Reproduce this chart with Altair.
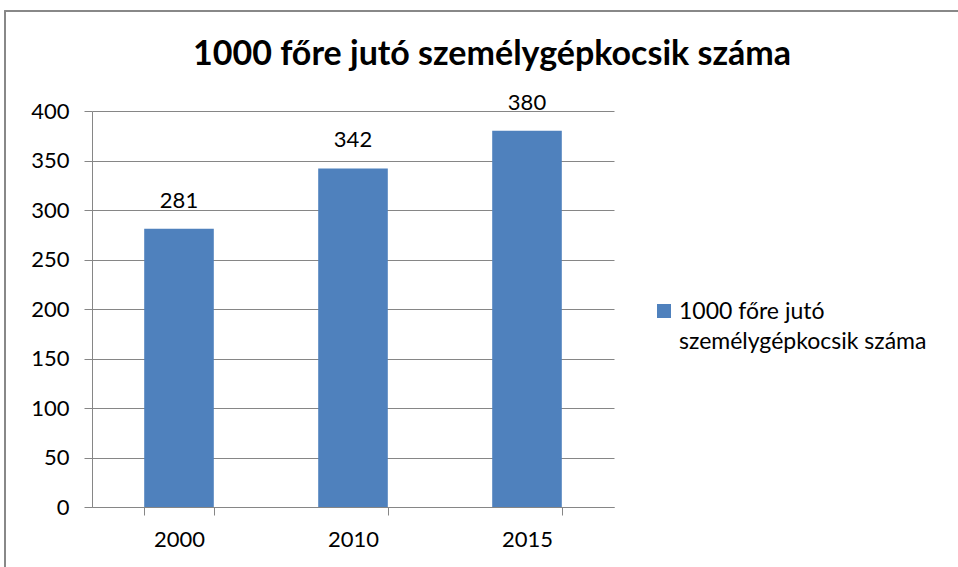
import altair as alt
import pandas as pd

years = ["2000", "2010", "2015"]
values = [281, 342, 380]
series = "1000 főre jutó személygépkocsik száma"
legend_lines = ["1000 főre jutó", "személygépkocsik száma"]
title = "1000 főre jutó személygépkocsik száma"

df = pd.DataFrame({"year": years, "value": values, "series": [series] * len(years)})
leg_df = pd.DataFrame({"series": [series], "label": ["|".join(legend_lines)]})

FONT = "Lato"
GREY = "#868686"
BLUE = "#4F81BD"
FS = 22

base = alt.Chart(df)

bars = base.mark_bar().encode(
    x=alt.X("year:N", sort=years,
            scale=alt.Scale(paddingInner=0.6, paddingOuter=0.3),
            axis=alt.Axis(title=None, labelAngle=0, labelFont=FONT, labelFontSize=FS,
                          labelColor="#000000", labelPadding=14, domainColor=GREY,
                          tickColor=GREY, tickSize=8, tickBand="extent", grid=False)),
    y=alt.Y("value:Q", scale=alt.Scale(domain=[0, 400], nice=False),
            axis=alt.Axis(title=None, values=list(range(0, 401, 50)), labelFont=FONT,
                          labelFontSize=FS, labelColor="#000000", labelPadding=15,
                          domainColor=GREY, tickColor=GREY, tickSize=8,
                          gridColor=GREY, gridWidth=1)),
    color=alt.Color("series:N", scale=alt.Scale(range=[BLUE]), legend=None),
)

labels = base.mark_text(font=FONT, fontSize=FS, color="#000000", baseline="alphabetic", dy=-21).encode(
    x=alt.X("year:N", sort=years),
    y="value:Q",
    text="value:Q",
)

leg_sym = alt.Chart(leg_df).mark_square(size=196, opacity=1).encode(
    x=alt.value(572), y=alt.value(200),
    color=alt.Color("series:N", scale=alt.Scale(range=[BLUE]), legend=None),
)
leg_txt = alt.Chart(leg_df).transform_calculate(
    lines="split(datum.label, '|')"
).mark_text(font=FONT, fontSize=23, color="#000000", align="left",
            baseline="alphabetic", lineHeight=30).encode(
    x=alt.value(587), y=alt.value(208), text="lines:N",
)

border = alt.Chart(df).mark_rect(fill=None, stroke=GREY, strokeWidth=1.5).encode(
    x=alt.value(-87), x2=alt.value(960), y=alt.value(-100), y2=alt.value(600)
)

chart = alt.layer(border, bars, labels, leg_sym, leg_txt).properties(
    width=522, height=396,
    title=alt.TitleParams(title, font=FONT, fontSize=34, fontWeight="bold", color="#000000",
                          anchor="middle", dx=139, offset=0, baseline="alphabetic", dy=89),
    padding={"left": 92, "top": 111, "right": 344, "bottom": 60},
    autosize=alt.AutoSizeParams(type="none"),
    background="white",
).configure_view(stroke=None)

chart.save("out.html", embed_options={"renderer": "svg", "actions": False})
